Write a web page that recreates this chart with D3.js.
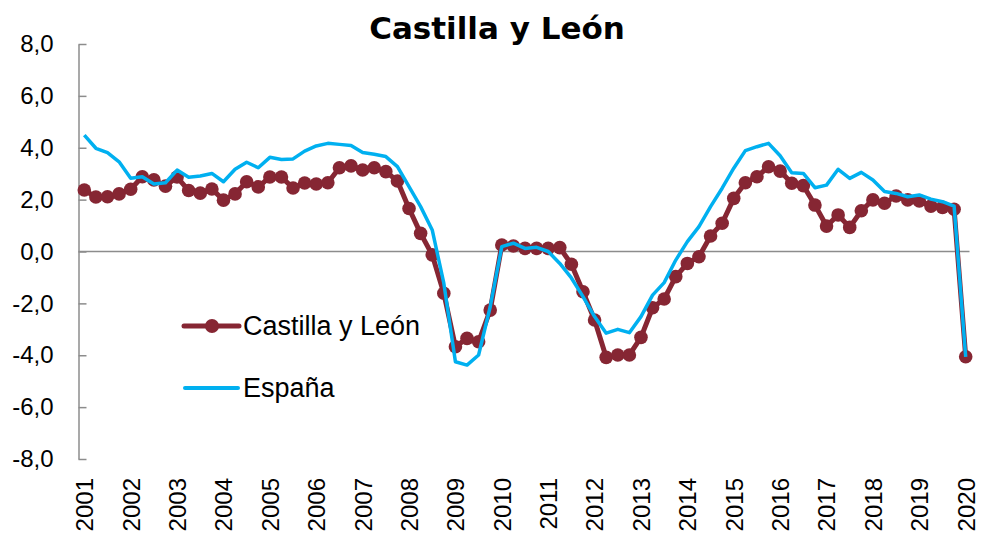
<!DOCTYPE html>
<html>
<head>
<meta charset="utf-8">
<script src="https://cdn.jsdelivr.net/npm/d3@7"></script>
<style>
  body { margin: 0; background: #fff; }
  text { font-family: "Liberation Sans", Arial, sans-serif; }
</style>
</head>
<body>
<script>
// quarterly data, 2001 Q1 .. 2020 Q1
const years = d3.range(2001, 2021);
const quarters = [];
years.forEach(function(y) {
  [1, 2, 3, 4].forEach(function(q) { if (y < 2020 || q === 1) quarters.push(y + "Q" + q); });
});

const castilla = [
  2.37, 2.10, 2.11, 2.22, 2.40, 2.88, 2.76, 2.52, 2.87, 2.35,
  2.25, 2.41, 1.98, 2.22, 2.69, 2.49, 2.87, 2.87, 2.45, 2.64,
  2.60, 2.65, 3.23, 3.30, 3.14, 3.23, 3.08, 2.72, 1.66, 0.70,
  -0.13, -1.61, -3.67, -3.35, -3.48, -2.26, 0.25, 0.21, 0.12, 0.12,
  0.12, 0.15, -0.49, -1.55, -2.64, -4.08, -3.99, -3.99, -3.31, -2.17,
  -1.83, -0.97, -0.46, -0.20, 0.60, 1.09, 2.05, 2.65, 2.88, 3.27,
  3.10, 2.63, 2.54, 1.79, 0.98, 1.41, 0.93, 1.57, 1.99, 1.86,
  2.14, 1.99, 1.95, 1.75, 1.70, 1.63, -4.06
];

const espana = [
  4.49, 3.98, 3.81, 3.46, 2.82, 2.88, 2.60, 2.65, 3.14, 2.86,
  2.91, 3.01, 2.69, 3.17, 3.44, 3.23, 3.63, 3.55, 3.57, 3.87,
  4.07, 4.17, 4.13, 4.09, 3.82, 3.75, 3.66, 3.27, 2.50, 1.73,
  0.83, -1.22, -4.25, -4.38, -3.99, -2.13, 0.19, 0.32, 0.12, 0.16,
  0.00, -0.46, -1.02, -1.74, -2.51, -3.15, -3.00, -3.13, -2.51, -1.68,
  -1.20, -0.33, 0.38, 0.96, 1.73, 2.44, 3.21, 3.89, 4.04, 4.17,
  3.69, 3.04, 3.01, 2.46, 2.56, 3.17, 2.82, 3.05, 2.76, 2.31,
  2.24, 2.11, 2.18, 2.02, 1.92, 1.75, -4.06
];

const yTicks = [-8, -6, -4, -2, 0, 2, 4, 6, 8];

const W = 981, H = 544;
const plot = {left: 78.5, right: 971.5, top: 44, bottom: 459};
const red = "#862633", blue = "#00B0F0", grey = "#8c8c8c";

const svg = d3.select("body").append("svg")
    .attr("width", W)
    .attr("height", H);

const x = d3.scalePoint()
    .domain(quarters)
    .range([plot.left, plot.right])
    .padding(0.5);
const y = d3.scaleLinear()
    .domain([-8, 8])
    .range([plot.bottom, plot.top]);

// title
svg.append("text")
    .attr("x", 497).attr("y", 39)
    .attr("text-anchor", "middle")
    .style("font-family", "'DejaVu Sans', Verdana, sans-serif")
    .style("font-size", "31px")
    .style("font-weight", "bold")
    .text("Castilla y León");

// y axis
const yAxis = svg.append("g")
    .attr("transform", "translate(" + plot.left + ",0)")
    .call(d3.axisLeft(y).tickValues(yTicks).tickSizeInner(-8).tickSizeOuter(0).tickPadding(25)
      .tickFormat(function(d) { return d.toFixed(1).replace(".", ","); }));
yAxis.select(".domain").attr("stroke", grey).attr("stroke-width", 1.5);
yAxis.selectAll(".tick line").attr("stroke", grey).attr("stroke-width", 1.5);
yAxis.selectAll(".tick text").style("font-size", "24px").attr("fill", "#000");

// zero line (category axis)
svg.append("line")
    .attr("x1", plot.left).attr("x2", plot.right - 2)
    .attr("y1", y(0)).attr("y2", y(0))
    .attr("stroke", grey).attr("stroke-width", 1.5);

// year labels
const xAxis = svg.append("g")
    .attr("transform", "translate(0," + (plot.bottom + 19) + ")")
    .call(d3.axisBottom(x).tickSize(0)
      .tickValues(quarters.filter(function(q) { return q.endsWith("Q1"); }))
      .tickFormat(function(d) { return d.slice(0, 4); }));
xAxis.select(".domain").remove();
xAxis.selectAll(".tick text")
    .attr("transform", "rotate(-90)")
    .attr("x", 0).attr("y", 0).attr("dy", "0.35em")
    .attr("text-anchor", "end")
    .style("font-size", "24px")
    .attr("fill", "#000");

const line = d3.line()
    .x(function(d, i) { return x(quarters[i]); })
    .y(function(d) { return y(d); });

// Castilla y León
svg.append("path")
    .datum(castilla)
    .attr("fill", "none")
    .attr("stroke", red)
    .attr("stroke-width", 5)
    .attr("stroke-linejoin", "round")
    .attr("d", line);
svg.selectAll(".dot")
    .data(castilla)
    .enter().append("circle")
    .attr("class", "dot")
    .attr("cx", function(d, i) { return x(quarters[i]); })
    .attr("cy", function(d) { return y(d); })
    .attr("r", 6.8)
    .attr("fill", red);

// España
svg.append("path")
    .datum(espana)
    .attr("fill", "none")
    .attr("stroke", blue)
    .attr("stroke-width", 3.5)
    .attr("stroke-linejoin", "round")
    .attr("d", line);

// legend
const lg = svg.append("g");
lg.append("line")
    .attr("x1", 184).attr("x2", 239).attr("y1", 326).attr("y2", 326)
    .attr("stroke", red).attr("stroke-width", 5).attr("stroke-linecap", "round");
lg.append("circle").attr("cx", 212).attr("cy", 326).attr("r", 7).attr("fill", red);
lg.append("text").attr("x", 243).attr("y", 326).attr("dy", "0.35em")
    .style("font-size", "27px").text("Castilla y León");
lg.append("line")
    .attr("x1", 185).attr("x2", 238).attr("y1", 388).attr("y2", 388)
    .attr("stroke", blue).attr("stroke-width", 4).attr("stroke-linecap", "round");
lg.append("text").attr("x", 243).attr("y", 388).attr("dy", "0.35em")
    .style("font-size", "27px").text("España");
</script>
</body>
</html>
